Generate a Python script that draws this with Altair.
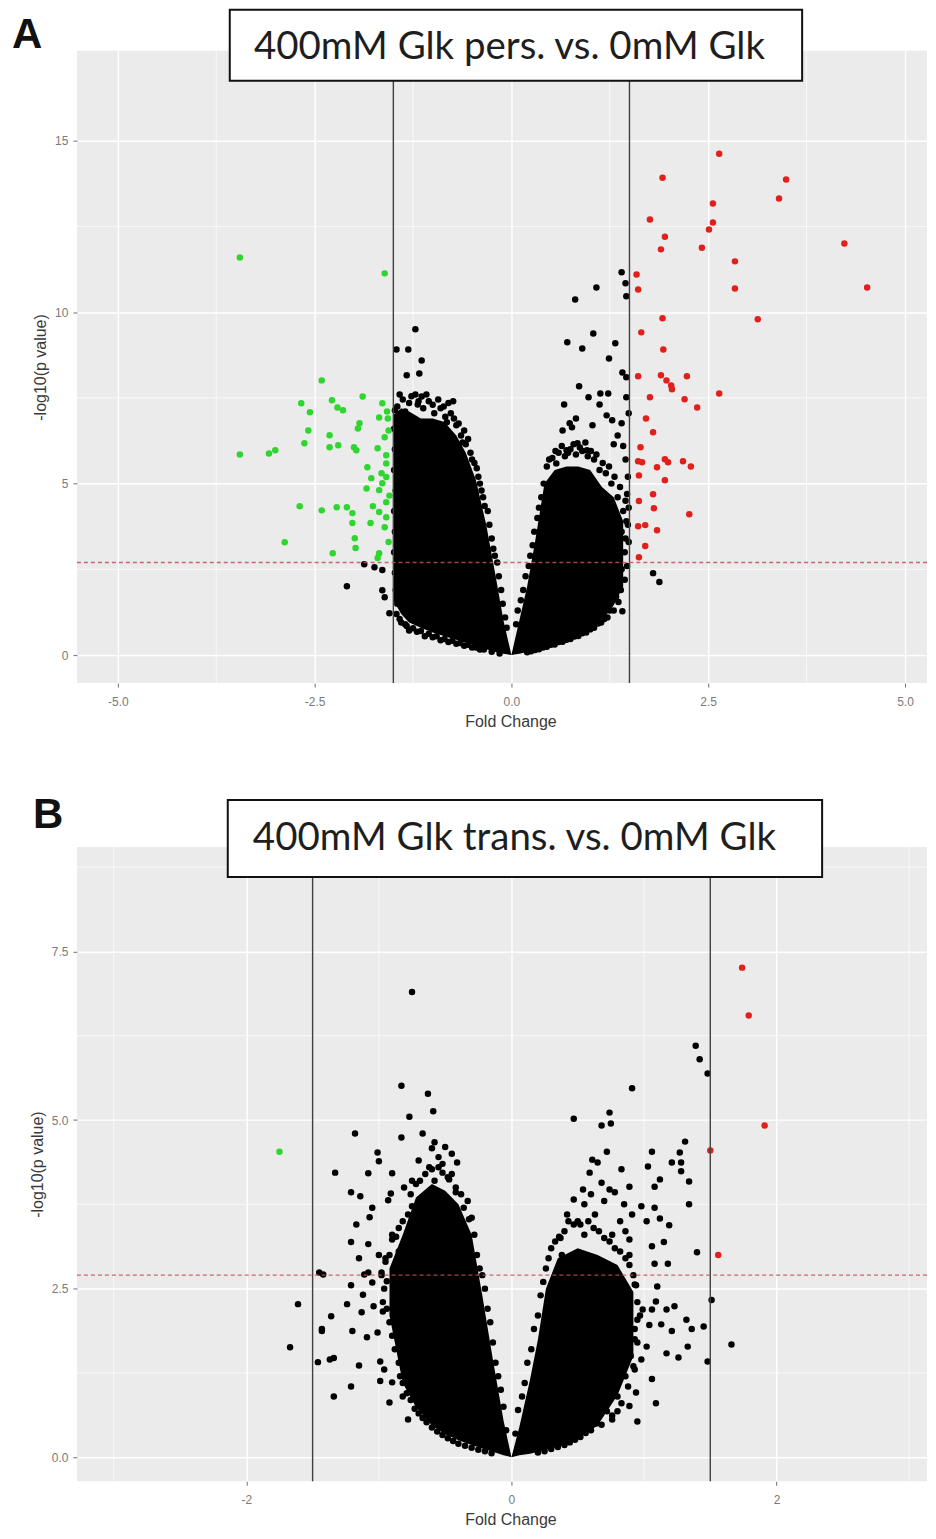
import altair as alt
import pandas as pd

# ---------------- data ----------------
FC_CUT = 1.5
P_CUT = 2.7

# Panel A: 400mM Glk pers. vs. 0mM Glk
A_GREEN = [(-3.45,11.59),(-1.61,11.13),(-2.41,8.01),(-2.67,7.34),(-2.56,7.08),(-2.28,7.43),(-2.21,7.22),
           (-2.14,7.14),(-1.89,7.54),(-1.64,7.34),(-1.68,6.93),(-1.57,6.90),(-2.58,6.55),(-2.31,6.41),
           (-1.93,6.76),(-1.95,6.61),(-2.63,6.18),(-2.31,6.06),(-2.20,6.12),(-2.00,6.06),(-1.97,5.97),
           (-1.70,6.03),(-1.59,5.83),(-3.45,5.85),(-3.08,5.88),(-3.00,5.97),(-1.83,5.48),(-1.78,5.16),
           (-1.84,4.86),(-1.65,5.30),(-1.64,5.01),(-1.59,5.19),(-1.68,4.81),(-2.69,4.34),(-2.41,4.22),
           (-2.22,4.31),(-2.09,4.31),(-2.02,4.14),(-2.02,3.85),(-1.76,4.34),(-1.68,4.17),(-1.59,4.02),
           (-1.79,3.85),(-1.61,3.73),(-1.99,3.41),(-1.98,3.12),(-2.88,3.29),(-2.27,2.97),(-1.68,2.97),
           (-1.70,2.83),(-1.59,4.46),(-1.61,6.35),(-1.59,5.59),(-1.56,3.30),(-1.55,4.65),(-1.56,6.55),
           (-1.58,7.10)]
A_RED = [(2.64,14.62),(1.92,13.92),(3.49,13.87),(3.40,13.31),(2.56,13.17),(1.76,12.70),(2.56,12.61),
         (2.51,12.41),(1.95,12.20),(1.90,11.83),(2.42,11.88),(4.23,12.00),(2.84,11.48),(2.84,10.69),
         (4.52,10.72),(1.59,11.10),(1.61,10.66),(1.92,9.82),(3.13,9.79),(1.65,9.41),(1.93,8.91),
         (1.61,8.13),(1.90,8.16),(1.97,8.01),(2.03,7.86),(2.04,7.75),(2.23,8.13),(2.64,7.63),(1.76,7.52),
         (2.20,7.46),(2.36,7.22),(1.71,6.90),(1.80,6.50),(1.64,6.06),(1.61,5.65),(1.66,5.62),(1.95,5.71),
         (1.99,5.62),(2.18,5.65),(2.28,5.50),(1.85,5.48),(1.62,5.24),(1.95,5.10),(1.80,4.69),(1.62,4.49),
         (1.81,4.28),(2.26,4.11),(1.61,3.76),(1.70,3.79),(1.85,3.64),(1.70,3.18),(1.62,2.85)]
A_BLACK = [
    # left arm, sparse
    (-1.22,9.50),(-1.46,8.91),(-1.31,8.91),(-1.14,8.59),(-1.33,8.16),(-1.17,8.21),(-1.14,7.54),
    (-1.19,7.31),(-0.74,7.40),(-0.82,6.79),(-0.95,6.55),(-0.58,6.15),(-1.48,7.14),(-1.32,6.99),
    (-1.87,2.65),(-1.74,2.56),(-1.64,2.48),(-2.09,2.01),(-1.64,1.89),(-1.61,1.69),(-1.55,1.22),
    (-1.33,0.85),(-1.33,1.40),
    # left arm, ragged edge
    (-1.45,7.25),(-1.38,7.45),(-1.30,7.35),(-1.22,7.60),(-1.12,7.20),(-1.05,7.40),(-0.98,7.05),
    (-0.90,7.20),(-0.84,6.95),(-0.77,7.05),(-0.70,6.70),(-0.64,6.40),(-0.60,6.55),(-0.52,5.90),
    (-0.47,5.60),(-0.40,5.00),(-0.36,4.60),(-0.30,4.20),(-0.25,3.40),(-0.18,2.70),(-0.13,1.90),
    (-0.08,1.10),(-1.49,6.60),(-1.48,6.00),(-1.49,5.40),(-1.47,4.80),(-1.49,4.20),(-1.48,3.60),
    (-1.49,3.00),(-1.48,2.40),(-1.47,1.90),(-1.45,1.50),(-1.42,1.05),(-1.35,0.90),(-1.25,0.78),
    (-1.15,0.70),(-1.05,0.62),(-0.95,0.55),(-0.85,0.47),(-0.75,0.42),(-0.65,0.35),(-0.55,0.30),
    (-0.45,0.22),(-0.35,0.16),(-0.25,0.10),(-0.15,0.05),
    (-1.42,7.60),(-1.35,7.10),(-1.27,7.55),(-1.18,7.40),(-1.08,7.60),(-1.00,7.30),(-0.93,7.45),
    (-0.86,7.25),(-0.80,7.35),(-0.73,6.90),(-0.67,6.75),(-0.62,6.20),(-0.55,6.30),(-0.50,5.70),
    (-0.44,5.45),(-0.42,5.20),(-0.38,4.80),(-0.34,4.35),(-0.28,3.80),(-0.23,3.10),(-0.21,2.90),
    (-0.16,2.30),(-0.11,1.50),(-0.06,0.80),(-1.46,1.20),(-1.40,0.95),(-1.30,0.72),(-1.20,0.68),
    (-1.10,0.55),(-1.00,0.52),(-0.90,0.43),(-0.80,0.38),(-0.70,0.33),(-0.60,0.27),(-0.50,0.22),
    (-0.40,0.16),
    # right arm, sparse
    (1.40,11.16),(1.45,10.84),(1.46,10.46),(1.08,10.72),(0.81,10.37),(1.04,9.38),(0.71,9.12),
    (0.90,8.94),(1.32,9.09),(1.24,8.65),(1.41,8.24),(1.46,8.10),(0.86,7.84),(0.98,7.52),(1.13,7.63),
    (1.23,7.63),(1.12,7.31),(1.46,7.52),(0.67,7.31),(1.21,6.99),(1.28,6.85),(1.40,6.76),(1.49,7.05),
    (0.82,6.90),(1.03,6.70),(0.74,6.76),(0.77,6.64),(0.65,6.55),(0.84,6.18),(0.70,5.97),(0.96,5.97),
    (0.57,5.59),(1.35,6.40),(1.42,6.10),(1.30,6.15),(1.45,5.70),(1.48,5.20),(1.47,4.70),(1.49,4.30),
    (1.48,3.80),(1.49,3.30),(1.36,2.68),(1.36,1.95),(1.41,1.28),(1.80,2.39),(1.88,2.13),
    # right arm, ragged edge
    (0.08,1.30),(0.15,1.90),(0.22,2.60),(0.27,3.20),(0.33,4.00),(0.38,4.60),(0.45,5.50),(0.52,5.75),
    (0.60,5.90),(0.68,5.80),(0.75,6.00),(0.82,5.85),(0.90,5.95),(0.97,5.80),(1.05,5.70),(1.12,5.40),
    (1.20,5.30),(1.27,5.00),(1.35,4.60),(1.42,4.20),(1.40,3.60),(1.44,3.00),(1.40,2.50),(1.33,1.70),
    (1.25,1.30),(1.18,1.05),(1.10,0.92),(1.00,0.75),(0.90,0.64),(0.80,0.54),(0.70,0.45),(0.60,0.38),
    (0.50,0.30),(0.40,0.22),(0.30,0.15),(0.20,0.08),
    (0.06,0.90),(0.12,1.60),(0.18,2.30),(0.24,2.90),(0.29,3.60),(0.35,4.30),(0.41,5.00),(0.48,5.70),
    (0.56,5.95),(0.64,6.10),(0.72,5.90),(0.79,6.15),(0.87,6.05),(0.94,6.20),(1.01,5.95),(1.08,5.85),
    (1.16,5.60),(1.24,5.50),(1.31,5.20),(1.38,4.90),(1.45,4.50),(1.46,3.90),(1.45,3.40),(1.47,2.60),
    (1.44,2.20),(1.39,1.90),(1.36,1.55),(1.30,1.30),(1.22,1.10),(1.14,0.95),(1.05,0.80),(0.95,0.66),
    (0.85,0.56),(0.75,0.47),(0.65,0.39),(0.55,0.31),(0.45,0.24),(0.35,0.17),(0.25,0.11)]
# dense cores: (fold change, lower -log10 p, upper -log10 p)
A_CORE_LEFT = [(-1.50,1.6,7.0),(-1.40,1.2,7.2),(-1.30,0.95,7.1),(-1.15,0.8,6.9),(-1.00,0.66,6.9),
               (-0.85,0.55,6.8),(-0.70,0.45,6.4),(-0.58,0.36,5.9),(-0.45,0.27,5.1),(-0.32,0.17,3.8),
               (-0.20,0.09,2.3),(-0.10,0.04,1.0),(0.00,0.0,0.0)]
A_CORE_RIGHT = [(0.00,0.0,0.0),(0.10,0.04,1.0),(0.20,0.09,2.0),(0.30,0.16,3.3),(0.42,0.27,5.0),
                (0.55,0.37,5.4),(0.70,0.47,5.5),(0.85,0.58,5.5),(1.00,0.76,5.4),(1.15,1.0,4.9),
                (1.30,1.45,4.6),(1.42,2.0,3.9)]

# Panel B: 400mM Glk trans. vs. 0mM Glk
B_GREEN = [(-1.75,4.53)]
B_RED = [(1.74,7.26),(1.79,6.55),(1.91,4.92),(1.50,4.55),(1.56,3.00)]
B_BLACK = [
    # left arm, sparse
    (-0.75,6.90),(-0.83,5.51),(-0.63,5.39),(-0.59,5.13),(-0.77,5.05),(-1.18,4.80),(-0.83,4.74),
    (-0.67,4.80),(-0.58,4.67),(-0.60,4.58),(-1.01,4.52),(-1.00,4.39),(-0.70,4.40),(-0.41,4.37),
    (-1.33,4.22),(-1.08,4.21),(-0.90,4.21),(-0.60,4.27),(-0.52,4.22),(-0.47,4.12),(-0.75,4.10),
    (-0.81,4.00),(-1.21,3.93),(-1.14,3.87),(-0.91,3.91),(-0.93,3.81),(-0.42,3.93),(-1.05,3.70),
    (-1.07,3.56),(-1.17,3.45),(-0.75,3.72),(-0.32,3.53),(-1.21,3.19),(-1.08,3.16),(-0.90,3.23),
    (-0.87,3.27),(-1.45,2.74),(-1.42,2.71),(-1.11,2.71),(-1.08,2.74),(-0.98,2.74),(-1.21,2.55),
    (-1.05,2.59),(-0.94,2.61),(-1.61,2.27),(-1.24,2.27),(-1.12,2.41),(-1.04,2.24),(-0.97,2.16),
    (-1.36,2.09),(-1.13,2.15),(-1.43,1.90),(-1.20,1.87),(-1.09,1.78),(-1.01,1.85),(-1.67,1.63),
    (-1.46,1.41),(-1.37,1.45),(-1.34,1.47),(-1.15,1.36),(-0.99,1.42),(-0.96,1.30),(-1.21,1.05),
    (-1.34,0.90),(-0.99,1.13),(-0.90,1.11),(-0.92,0.81),(-0.82,0.90),(-0.78,0.56),(-1.43,1.87),
    (-0.68,3.55),(-0.62,3.75),(-0.85,3.05),(-0.95,2.95),(-0.66,3.30),(-1.00,3.00),(-1.15,2.95),
    (-0.55,4.45),(-0.50,4.60),(-0.45,4.50),
    # left arm, ragged edge
    (-0.92,3.00),(-0.85,3.40),(-0.78,3.60),(-0.72,4.05),(-0.65,4.20),(-0.55,4.30),(-0.48,4.15),
    (-0.42,4.00),(-0.36,3.70),(-0.30,3.55),(-0.26,3.00),(-0.22,2.70),(-0.18,2.20),(-0.14,1.70),
    (-0.10,1.20),(-0.06,0.75),(-0.96,2.50),(-0.94,2.20),(-0.90,1.80),(-0.85,1.40),(-0.82,1.10),
    (-0.76,0.85),(-0.70,0.65),(-0.64,0.52),(-0.56,0.38),(-0.48,0.28),(-0.40,0.20),(-0.30,0.14),
    (-0.20,0.09),
    (-0.95,2.90),(-0.90,3.30),(-0.82,3.50),(-0.76,3.90),(-0.69,4.10),(-0.62,4.30),(-0.58,4.10),
    (-0.52,4.35),(-0.45,4.20),(-0.38,3.90),(-0.33,3.80),(-0.28,3.30),(-0.24,2.80),(-0.20,2.50),
    (-0.16,2.00),(-0.12,1.40),(-0.08,1.00),(-0.04,0.40),(-0.98,2.70),(-0.97,2.30),(-0.92,2.00),
    (-0.88,1.60),(-0.84,1.20),(-0.79,0.95),(-0.73,0.72),(-0.67,0.58),(-0.60,0.44),(-0.52,0.33),
    (-0.44,0.24),(-0.35,0.17),(-0.25,0.11),(-0.15,0.06),
    # right arm, sparse
    (1.39,6.10),(1.42,5.90),(1.48,5.69),(0.91,5.47),(0.47,5.02),(0.74,5.11),(0.68,4.92),(0.75,4.95),
    (1.31,4.68),(0.72,4.53),(1.06,4.53),(1.27,4.52),(1.03,4.31),(1.21,4.37),(1.28,4.37),(1.28,4.24),
    (0.61,4.41),(0.65,4.37),(0.59,4.22),(0.83,4.27),(1.12,4.12),(1.08,4.01),(1.34,4.09),(0.89,4.01),
    (0.68,4.07),(0.74,3.97),(0.78,3.93),(0.54,3.97),(0.47,3.82),(1.34,3.75),(0.98,3.72),(1.08,3.70),
    (0.91,3.60),(1.02,3.50),(1.19,3.44),(1.12,3.54),(0.36,3.27),(0.89,3.23),(1.06,3.13),(1.15,3.19),
    (1.40,3.04),(0.38,3.00),(0.89,3.00),(1.08,2.87),(1.18,2.87),(0.93,2.56),(1.10,2.53),(1.09,2.31),
    (1.51,2.33),(0.99,2.19),(1.06,2.19),(1.17,2.19),(1.23,2.24),(0.95,2.04),(1.04,1.96),(1.13,1.97),
    (1.21,1.87),(1.32,2.04),(1.36,1.90),(1.45,1.94),(1.66,1.67),(1.48,1.42),(1.33,1.64),(1.26,1.48),
    (1.17,1.54),(0.93,1.75),(1.02,1.64),(0.98,1.45),(1.06,1.16),(0.93,1.30),(0.94,0.96),(1.09,0.80),
    (0.89,0.76),(0.95,0.53),(0.76,0.56),(0.80,0.68),(0.55,3.75),(0.63,3.60),(0.70,3.80),(0.82,3.50),
    (0.86,3.35),(0.50,3.50),(0.76,3.30),(0.60,3.90),(0.42,3.60),(0.85,3.75),
    # right arm, ragged edge
    (0.05,0.70),(0.10,1.10),(0.15,1.60),(0.20,2.10),(0.24,2.60),(0.28,2.95),(0.33,3.20),(0.40,3.35),
    (0.47,3.45),(0.55,3.30),(0.62,3.40),(0.70,3.25),(0.78,3.10),(0.86,2.95),(0.92,2.70),(0.95,2.30),
    (0.93,1.90),(0.90,1.50),(0.86,1.20),(0.80,0.90),(0.72,0.68),(0.64,0.50),(0.56,0.36),(0.48,0.26),
    (0.40,0.18),(0.30,0.12),(0.20,0.07),
    (0.03,0.35),(0.08,0.90),(0.12,1.40),(0.17,1.90),(0.22,2.40),(0.26,2.80),(0.30,3.10),(0.37,3.25),
    (0.43,3.50),(0.52,3.45),(0.58,3.50),(0.66,3.35),(0.74,3.20),(0.82,3.05),(0.89,2.85),(0.94,2.55),
    (0.97,2.10),(0.95,1.70),(0.92,1.35),(0.88,1.05),(0.83,0.80),(0.76,0.62),(0.68,0.48),(0.60,0.40),
    (0.52,0.30),(0.44,0.22),(0.35,0.15),(0.25,0.09)]
B_CORE_LEFT = [(-0.92,2.1,2.8),(-0.82,1.1,3.3),(-0.72,0.74,3.85),(-0.60,0.47,4.05),(-0.50,0.34,3.95),
               (-0.40,0.25,3.75),(-0.30,0.18,3.3),(-0.22,0.13,2.4),(-0.14,0.08,1.45),(-0.06,0.03,0.55),
               (0.00,0.0,0.0)]
B_CORE_RIGHT = [(0.00,0.0,0.0),(0.06,0.03,0.45),(0.14,0.05,1.15),(0.20,0.08,1.75),(0.26,0.11,2.5),
                (0.35,0.15,2.95),(0.50,0.27,3.1),(0.65,0.47,3.0),(0.80,0.92,2.85),(0.92,1.5,2.45)]

A_XTICKS = [-5.0, -2.5, 0.0, 2.5, 5.0]
A_XMINOR = [-3.75, -1.25, 1.25, 3.75]
A_YTICKS = [0, 5, 10, 15]
A_YMINOR = [2.5, 7.5, 12.5]
B_XTICKS = [-2, 0, 2]
B_XMINOR = [-3, -1, 1, 3]
B_YTICKS = [0.0, 2.5, 5.0, 7.5]
B_YMINOR = [1.25, 3.75, 6.25, 8.75]

TITLE_A = "400mM Glk pers. vs. 0mM Glk"
TITLE_B = "400mM Glk trans. vs. 0mM Glk"

# ---------------- chart ----------------
W = 851
BLACK, GREEN, RED = "#000000", "#2fd62f", "#e0201c"
MINUS_FIX = "replace(datum.label, '\u2212', '-')"


def pts(lst):
    return pd.DataFrame(lst, columns=["x", "y"])


def core(lst):
    return pd.DataFrame(lst, columns=["x", "y2", "y"])


def panel(label, title, black, green, red, core_l, core_r, xdom, ydom, xt, xm, yt, ym,
          xfmt, yfmt, height, box, tpos, lpos):
    xs = alt.Scale(domain=xdom, nice=False, zero=False)
    ys = alt.Scale(domain=ydom, nice=False, zero=False)
    common = dict(grid=True, gridColor="white", gridWidth=1.4, domain=False, ticks=True,
                  tickColor="#707070", tickSize=4, tickWidth=1, labelFont="Liberation Sans",
                  labelFontSize=12, labelColor="#7a7a7a", labelOverlap=False, labelFlush=False,
                  titleFont="Liberation Sans", titleFontSize=16, titleFontWeight="normal",
                  titleColor="#3a3a3a", labelExpr=MINUS_FIX)
    xaxis = alt.Axis(values=xt, format=xfmt, title="Fold Change", labelPadding=9,
                     titlePadding=6, titleX=434, titleAlign="center", **common)
    yaxis = alt.Axis(values=yt, format=yfmt, title="-log10(p value)", labelPadding=5,
                     titlePadding=6, **common)

    def X():
        return alt.X("x:Q", scale=xs, axis=xaxis)

    def Y():
        return alt.Y("y:Q", scale=ys, axis=yaxis)

    minor_x = alt.Chart(pd.DataFrame({"x": xm})).mark_rule(color="white", strokeWidth=0.7).encode(x=X())
    minor_y = alt.Chart(pd.DataFrame({"y": ym})).mark_rule(color="white", strokeWidth=0.7).encode(y=Y())
    area_l = alt.Chart(core(core_l)).mark_area(color=BLACK, clip=True).encode(x=X(), y=Y(), y2="y2:Q")
    area_r = alt.Chart(core(core_r)).mark_area(color=BLACK, clip=True).encode(x=X(), y=Y(), y2="y2:Q")
    p_black = alt.Chart(pts(black)).mark_circle(size=42, color=BLACK, opacity=1, clip=True).encode(x=X(), y=Y())
    p_green = alt.Chart(pts(green)).mark_circle(size=42, color=GREEN, opacity=1, clip=True).encode(x=X(), y=Y())
    p_red = alt.Chart(pts(red)).mark_circle(size=42, color=RED, opacity=1, clip=True).encode(x=X(), y=Y())
    vlines = alt.Chart(pd.DataFrame({"x": [-FC_CUT, FC_CUT]})).mark_rule(
        color="#404040", strokeWidth=1.4).encode(x=X())
    hline = alt.Chart(pd.DataFrame({"y": [P_CUT]})).mark_rule(
        color="#c0505a", strokeWidth=1.3, strokeDash=[4, 3], opacity=0.85).encode(y=Y())
    tdf = pd.DataFrame({"t": [title], "l": [label]})
    rect = alt.Chart(tdf).mark_rect(fill="white", stroke="#111111", strokeWidth=2).encode(
        x=alt.value(box[0]), x2=alt.value(box[1]), y=alt.value(box[2]), y2=alt.value(box[3]))
    txt = alt.Chart(tdf).mark_text(font="Lato", fontSize=38.5, color="#1e1e1e", align="center",
                                   baseline="alphabetic").encode(
        x=alt.value(tpos[0]), y=alt.value(tpos[1]), text="t:N")
    lab = alt.Chart(tdf).mark_text(font="Liberation Sans", fontSize=42, fontWeight="bold",
                                   color="#111111", align="left", baseline="alphabetic").encode(
        x=alt.value(lpos[0]), y=alt.value(lpos[1]), text="l:N")
    return alt.layer(minor_x, minor_y, area_l, area_r, p_black, p_green, p_red, vlines, hline,
                     rect, txt, lab).properties(width=W, height=height)


chart_a = panel("A", TITLE_A, A_BLACK, A_GREEN, A_RED, A_CORE_LEFT, A_CORE_RIGHT,
                [-5.52, 5.28], [-0.816, 17.62], A_XTICKS, A_XMINOR, A_YTICKS, A_YMINOR,
                ".1f", "d", 633, (153, 726, -41, 30), (433, 8), (-65, -3))
chart_b = panel("B", TITLE_B, B_BLACK, B_GREEN, B_RED, B_CORE_LEFT, B_CORE_RIGHT,
                [-3.278, 3.135], [-0.356, 9.05], B_XTICKS, B_XMINOR, B_YTICKS, B_YMINOR,
                "d", ".1f", 635, (151, 746, -47, 30), (438, 3), (-44, -19))

chart = alt.vconcat(chart_a, chart_b, spacing=65).properties(
    padding={"left": 4, "top": 0, "right": 0, "bottom": 0}
).configure_view(fill="#ebebeb", stroke=None)

chart.save("out.html", embed_options={"renderer": "svg", "actions": False})
